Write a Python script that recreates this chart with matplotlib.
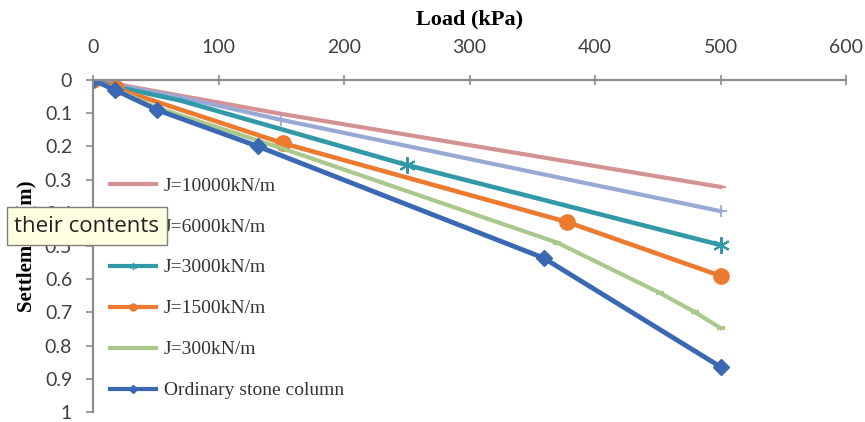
import matplotlib
matplotlib.use("Agg")
from matplotlib import pyplot as plt
from matplotlib.lines import Line2D
from matplotlib.patches import Rectangle

# values (load in kPa, settlement in m)
labels = ["J=10000kN/m", "J=6000kN/m", "J=3000kN/m", "J=1500kN/m",
          "J=300kN/m", "Ordinary stone column"]

load_10000 = [0, 18, 150, 500]
sett_10000 = [0, 0.012, 0.102, 0.322]

load_6000 = [0, 18, 70, 150, 500]
sett_6000 = [0, 0.015, 0.052, 0.12, 0.395]

load_3000 = [0, 18, 70, 250, 500]
sett_3000 = [0, 0.02, 0.062, 0.256, 0.497]

load_1500 = [0, 18, 151, 378, 500]
sett_1500 = [0, 0.025, 0.19, 0.428, 0.59]

load_300 = [0, 18, 50, 150, 370, 452, 480, 500]
sett_300 = [0, 0.028, 0.082, 0.205, 0.49, 0.642, 0.70, 0.747]

load_osc = [0, 17.5, 51, 131.5, 359, 500]
sett_osc = [0, 0.03, 0.09, 0.20, 0.536, 0.864]

xticks = [0, 100, 200, 300, 400, 500, 600]
yticks = [0, 0.1, 0.2, 0.3, 0.4, 0.5, 0.6, 0.7, 0.8, 0.9, 1]
ytick_labels = ["0", "0.1", "0.2", "0.3", "0.4", "0.5", "0.6", "0.7", "0.8", "0.9", "1"]

c_pink = "#d69192"
c_lav = "#99a9d6"
c_teal = "#3299a8"
c_orange = "#ec7b30"
c_green = "#a9c98c"
c_blue = "#3a68b2"

fig = plt.figure(figsize=(8.65, 4.22), dpi=100)
ax = fig.add_axes([93/865, 1-412/422, 753/865, 332/422])

ax.plot(load_10000, sett_10000, color=c_pink, lw=3, marker="_", ms=7, mew=1.5,
        markevery=[2, 3])
ax.plot(load_6000, sett_6000, color=c_lav, lw=3, marker="+", ms=9, mew=1.3,
        markevery=[3, 4])
ax.plot(load_3000, sett_3000, color=c_teal, lw=3.3, marker=(6, 2, 0), ms=12, mew=1.5,
        markevery=[3, 4])
ax.plot(load_1500, sett_1500, color=c_orange, lw=3.3, marker="o", ms=11)
ax.plot(load_300, sett_300, color=c_green, lw=3, marker="_", ms=6, mew=3,
        markevery=[4, 5, 6, 7])
ax.plot(load_osc, sett_osc, color=c_blue, lw=3.5, marker="D", ms=8)

ax.set_xlim(0, 600)
ax.set_ylim(1, 0)
ax.xaxis.tick_top()
ax.xaxis.set_label_position("top")
ax.set_xticks(xticks)
ax.set_yticks(yticks)
ax.set_yticklabels(ytick_labels)
ax.tick_params(axis="x", direction="inout", length=7, width=1.2, color="#8c8c8c",
               labelsize=14, labelcolor="#404040", pad=14)
ax.tick_params(axis="y", direction="out", length=5, width=1.2, color="#8c8c8c",
               labelsize=14, labelcolor="#404040", pad=10)
for lab in ax.get_xticklabels() + ax.get_yticklabels():
    lab.set_family("Lato")

for s in ["right", "bottom"]:
    ax.spines[s].set_visible(False)
for s in ["left", "top"]:
    ax.spines[s].set_color("#8c8c8c")
    ax.spines[s].set_linewidth(1.6)

ax.set_xlabel("Load (kPa)", family="Liberation Serif", fontweight="bold",
              fontsize=16, labelpad=10)
ax.set_ylabel("Settlement (m)", family="Liberation Serif", fontweight="bold",
              fontsize=15, labelpad=6)

# legend with small markers like the original
handles = [
    Line2D([], [], color=c_pink, lw=3),
    Line2D([], [], color=c_lav, lw=3, marker="+", ms=5),
    Line2D([], [], color=c_teal, lw=3, marker=(6, 2, 0), ms=5),
    Line2D([], [], color=c_orange, lw=3, marker="o", ms=5),
    Line2D([], [], color=c_green, lw=3),
    Line2D([], [], color=c_blue, lw=3, marker="D", ms=4),
]
ax.legend(handles, labels, loc="center left", bbox_to_anchor=(0.022, 0.373),
          frameon=False, borderaxespad=0, borderpad=0,
          prop={"family": "Liberation Serif", "size": 14},
          handlelength=2.4, handletextpad=0.4, labelspacing=1.2,
          labelcolor="#333333")

# the tooltip overlay seen in the screenshot
fig.add_artist(Rectangle((7/865, 1-245/422), 160/865, 38/422,
                         transform=fig.transFigure, facecolor="#ffffe1",
                         edgecolor="#808080", lw=1, zorder=10))
fig.text(14/865, 1-226/422, "their contents", family="Open Sans", fontsize=16,
         color="#222222", va="center", ha="left", zorder=11)

fig.savefig("out.png", dpi=100)
